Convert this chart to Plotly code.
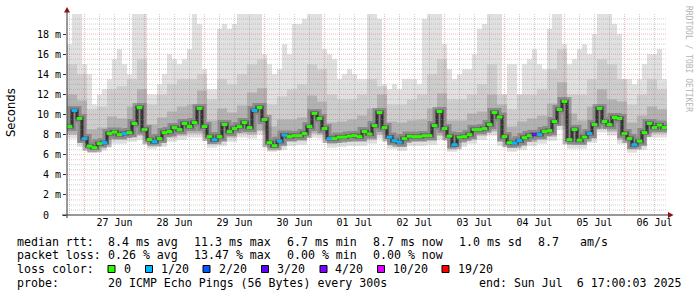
import numpy as np
import pandas as pd
import plotly.graph_objects as go

# ---------------- data ----------------
START = "2025-06-26 17:00"
END = "2025-07-06 17:00"

# median rtt (ms), one value per 2 hours
median_ms = [
    8.8, 10.4, 9.6, 7.6, 6.85, 6.7, 7.1, 7.2, 8.1, 8.25,
    8.0, 8.1, 8.2, 9.1, 10.7, 8.5, 7.5, 7.3, 7.6, 8.2,
    8.3, 8.7, 8.5, 9.1, 8.8, 9.2, 10.6, 8.8, 7.8, 7.5,
    7.8, 9.0, 8.3, 8.6, 8.8, 9.2, 8.7, 10.4, 10.7, 9.5,
    7.2, 6.9, 7.35, 7.95, 7.8, 7.9, 7.9, 8.1, 8.8, 10.1,
    9.6, 8.6, 7.6, 7.6, 7.75, 7.75, 7.85, 7.9, 7.8, 8.3,
    8.05, 8.9, 10.2, 8.7, 7.75, 7.4, 7.25, 7.6, 7.85, 7.8,
    7.8, 7.9, 7.9, 8.9, 10.3, 8.6, 7.85, 7.0, 7.75, 7.8,
    8.0, 8.5, 8.5, 8.6, 9.0, 10.2, 9.75, 7.8, 7.2, 7.15,
    7.4, 7.7, 7.9, 8.0, 8.0, 8.3, 8.4, 9.3, 10.5, 11.3,
    7.5, 8.5, 7.45, 7.75, 8.1, 9.0, 10.6, 9.3, 9.0, 9.7,
    9.6, 8.1, 7.6, 7.0, 7.35, 8.2, 9.1, 8.7, 8.95, 8.7,
]

# lost pings (out of 20), per 2 hours
loss_pings = [
    0, 1, 0, 1, 0, 0, 0, 1, 0, 0,
    0, 1, 0, 0, 0, 0, 0, 1, 0, 0,
    0, 0, 0, 0, 0, 0, 0, 0, 0, 1,
    0, 0, 0, 0, 0, 0, 0, 1, 0, 0,
    0, 0, 1, 1, 0, 0, 0, 0, 0, 0,
    0, 0, 1, 0, 0, 0, 0, 0, 0, 0,
    0, 0, 0, 0, 1, 1, 1, 0, 0, 0,
    0, 0, 0, 0, 0, 0, 0, 1, 0, 0,
    0, 0, 0, 0, 0, 0, 0, 0, 0, 1,
    1, 0, 0, 3, 1, 0, 0, 0, 0, 0,
    0, 0, 0, 0, 1, 0, 0, 0, 0, 0,
    0, 0, 0, 1, 0, 0, 0, 0, 0, 0,
]

# slowest ping (top of smoke), per 2 hours
smoke_max = [
    17, 20, 20, 15, 14, 11, 12, 12.5, 13.5, 15.5,
    16.5, 15, 14, 20, 20, 20, 12, 12, 13, 14,
    16, 15.5, 15, 15.5, 16.5, 20, 19, 14.5, 12.5, 12.5,
    18.5, 19, 18.5, 19, 20, 20, 20, 20, 20, 16,
    15, 14, 14.5, 17, 16, 19, 19, 19.5, 20, 20,
    20, 16.5, 16, 15.5, 13.5, 14, 14.5, 14, 13.5, 13.5,
    20, 20, 19.5, 13, 12.5, 13, 12.5, 13.5, 13.5, 13.5,
    13, 19.5, 20, 20, 20, 17, 14.5, 13.5, 14, 14.5,
    14.5, 16, 18.5, 19, 20, 20, 20, 12, 15, 15,
    12, 15, 15.5, 16.5, 15, 14.5, 18.5, 20, 20, 17,
    15, 15.5, 16.5, 17, 16, 18, 20, 20, 20, 19,
    18, 13.5, 13.5, 13, 13.5, 15, 16, 16, 16.5, 13.5,
]

# per 4 hours: fastest ping, lower quartile, upper quartile, 90th percentile
smoke_min = [
    7.6, 6.8, 6.2, 6.4, 7.1, 7.1, 7.3, 7.5, 6.6, 6.8,
    7.3, 7.5, 7.7, 7.7, 6.7, 6.9, 7.3, 7.7, 7.6, 8.0,
    6.3, 6.5, 6.9, 7.0, 7.7, 7.6, 6.7, 6.8, 6.9, 6.9,
    7.1, 7.6, 6.6, 6.4, 6.9, 6.9, 7.0, 7.5, 6.3, 6.8,
    7.1, 7.5, 7.9, 6.9, 6.3, 6.5, 6.9, 7.1, 7.4, 8.5,
    6.6, 6.6, 7.2, 8.2, 7.9, 7.1, 6.2, 6.5, 7.7, 7.7,
]
smoke_q25 = [
    8.0, 7.2, 6.6, 6.8, 7.5, 7.5, 7.7, 7.9, 7.0, 7.2,
    7.7, 7.9, 8.1, 8.1, 7.1, 7.3, 7.7, 8.1, 8.0, 8.4,
    6.7, 6.9, 7.3, 7.4, 8.1, 8.0, 7.1, 7.2, 7.3, 7.3,
    7.5, 8.0, 7.0, 6.8, 7.3, 7.3, 7.4, 7.9, 6.7, 7.2,
    7.5, 7.9, 8.3, 7.3, 6.7, 6.9, 7.3, 7.5, 7.8, 8.9,
    7.0, 7.0, 7.6, 8.6, 8.3, 7.5, 6.6, 6.9, 8.1, 8.1,
]
smoke_p75 = [
    12.0, 11.4, 8.5, 8.7, 9.8, 9.6, 10.8, 12.5, 9.0, 9.7,
    10.3, 10.8, 11.0, 12.4, 9.4, 10.6, 10.2, 10.9, 12.2, 12.6,
    8.8, 9.5, 9.5, 9.7, 11.9, 11.3, 9.2, 9.3, 9.5, 9.9,
    10.6, 12.0, 9.3, 9.2, 9.4, 9.5, 10.6, 12.1, 9.4, 9.4,
    10.1, 10.3, 12.0, 11.0, 8.8, 9.3, 9.6, 9.9, 11.1, 13.2,
    10.1, 9.4, 10.8, 12.5, 11.5, 11.3, 9.2, 9.9, 10.8, 10.5,
]
smoke_p90 = [
    15.0, 14.0, 10.5, 10.8, 12.5, 12.8, 13.5, 15.5, 11.0, 12.0,
    13.0, 13.5, 13.5, 14.0, 11.5, 13.5, 13.0, 14.0, 15.0, 15.5,
    11.0, 11.8, 12.5, 13.0, 15.0, 14.5, 12.0, 11.5, 11.5, 12.0,
    13.5, 12.8, 11.0, 11.0, 11.5, 12.0, 14.0, 15.5, 11.5, 11.5,
    12.0, 13.0, 15.0, 12.0, 10.5, 12.0, 12.0, 12.5, 14.5, 16.5,
    12.0, 12.0, 13.5, 15.5, 15.0, 13.5, 11.0, 12.0, 13.5, 12.5,
]

y_ticks = [0, 2, 4, 6, 8, 10, 12, 14, 16, 18]
y_tick_labels = ["0\u00a0\u00a0", "2 m", "4 m", "6 m", "8 m", "10 m",
                 "12 m", "14 m", "16 m", "18 m"]
day_labels = ["27 Jun", "28 Jun", "29 Jun", "30 Jun", "01 Jul",
              "02 Jul", "03 Jul", "04 Jul", "05 Jul", "06 Jul"]

loss_colors = {0: "#26ff00", 1: "#00b8ff", 2: "#0059ff", 3: "#5e00ff",
               4: "#7e00ff", 10: "#dd00ff", 19: "#ff0000"}
loss_legend = [(0, "0"), (1, "1/20"), (2, "2/20"), (3, "3/20"),
               (4, "4/20"), (10, "10/20"), (19, "19/20")]

legend_rows = [
    [("median rtt:", 16), ("8.4 ms avg", 107), ("11.3 ms max", 193),
     ("6.7 ms min", 286), ("8.7 ms now", 372), ("1.0 ms sd", 458),
     ("8.7", 536.5), ("am/s", 579)],
    [("packet loss:", 16), ("0.26 % avg", 107), ("13.47 % max", 193),
     ("0.00 % min", 286), ("0.00 % now", 372)],
    [("loss color:", 16)],
    [("probe:", 16), ("20 ICMP Echo Pings (56 Bytes) every 300s", 107),
     ("end: Sun Jul  6 17:00:03 2025", 478)],
]
legend_row_y = [241.7, 255.2, 269, 282.8]
box_x = [108, 145.5, 203, 261.5, 320, 377.5, 442]
box_text_x = [123, 160, 218, 276, 334, 391.5, 456.5]

# ---------------- geometry helpers ----------------
W, H = 697, 297
ML, MR, MT, MB = 67, 30, 14, 82
PW, PH = W - ML - MR, H - MT - MB


def px(xp):
    return (xp - ML) / PW


def py(yp):
    return (MT + PH - yp) / PH


def nb(s):
    return s.replace(" ", "\u00a0")


t2 = pd.date_range(START, periods=len(median_ms) + 1, freq="2h")
t4 = pd.date_range(START, periods=len(smoke_min) + 1, freq="4h")
t2c = t2[:-1] + pd.Timedelta(hours=1)


def closed(v):
    return list(v) + [v[-1]]


fig = go.Figure()


def band(xlo, lo, xhi, hi, color):
    fig.add_trace(go.Scatter(x=xlo, y=closed(lo), mode="lines",
                             line=dict(width=0, shape="hv"),
                             hoverinfo="skip", showlegend=False))
    fig.add_trace(go.Scatter(x=xhi, y=closed(hi), mode="lines",
                             line=dict(width=0, shape="hv"),
                             fill="tonexty", fillcolor=color,
                             hoverinfo="skip", showlegend=False))


band(t4, smoke_min, t2, smoke_max, "#e0e0e0")
band(t4, smoke_q25, t4, smoke_p90, "#cdcdcd")
band(t4, smoke_q25, t4, smoke_p75, "#b2b2b2")

# dark smoke right around the median
fig.add_trace(go.Scatter(x=t2, y=closed(median_ms), mode="lines",
                         line=dict(width=9, shape="hv", color="rgba(90,90,90,0.45)"),
                         hoverinfo="skip", showlegend=False))
fig.add_trace(go.Scatter(x=t2, y=closed(median_ms), mode="lines",
                         line=dict(width=4, shape="hv", color="rgba(50,50,50,0.55)"),
                         hoverinfo="skip", showlegend=False))
fig.add_trace(go.Scatter(x=t2, y=closed(median_ms), mode="lines",
                         line=dict(width=1, shape="hv", color="#111111"),
                         hoverinfo="skip", showlegend=False))
fig.add_trace(go.Scatter(x=t2c, y=median_ms, mode="markers",
                         marker=dict(symbol="line-ew", size=4,
                                     line=dict(width=3,
                                               color=[loss_colors[l] for l in loss_pings])),
                         hoverinfo="skip", showlegend=False))

shapes = []
major_col = "rgba(225,70,70,0.38)"
minor_col = "rgba(140,140,140,0.42)"
# grid (drawn above the smoke, like rrdtool)
for t in pd.date_range("2025-06-26 18:00", END, freq="6h"):
    major = t.hour == 0
    ts = t.strftime("%Y-%m-%d %H:%M")
    shapes.append(dict(type="line", xref="x", yref="paper", x0=ts, x1=ts,
                       y0=0, y1=1, layer="above",
                       line=dict(width=1, dash="1px,1px",
                                 color=major_col if major else minor_col)))
for v in np.arange(0.5, 20.0, 0.5):
    major = abs(v % 2) < 1e-9
    shapes.append(dict(type="line", xref="paper", yref="y", x0=0, x1=1,
                       y0=v, y1=v, layer="above",
                       line=dict(width=1, dash="1px,1px",
                                 color=major_col if major else minor_col)))

# axes lines and arrows
axis_col = "#333333"
arrow_col = "#8b1010"
shapes.append(dict(type="line", xref="paper", yref="paper",
                   x0=px(62), x1=px(669), y0=py(215), y1=py(215),
                   line=dict(width=1, color=axis_col), layer="above"))
shapes.append(dict(type="line", xref="paper", yref="paper",
                   x0=px(67), x1=px(67), y0=py(218), y1=py(10),
                   line=dict(width=1, color=axis_col), layer="above"))
shapes.append(dict(type="path", xref="paper", yref="paper",
                   path=f"M {px(64)} {py(12.5)} L {px(67)} {py(7)} L {px(70)} {py(12.5)} Z",
                   fillcolor=arrow_col, line=dict(width=0), layer="above"))
shapes.append(dict(type="path", xref="paper", yref="paper",
                   path=f"M {px(668)} {py(212)} L {px(673.5)} {py(215)} L {px(668)} {py(218)} Z",
                   fillcolor=arrow_col, line=dict(width=0), layer="above"))

# legend colour boxes
for (lv, lab), bx in zip(loss_legend, box_x):
    shapes.append(dict(type="rect", xref="paper", yref="paper",
                       x0=px(bx), x1=px(bx + 7), y0=py(265.5), y1=py(272.5),
                       fillcolor=loss_colors[lv], line=dict(width=1, color="black")))

annotations = []
mono = "DejaVu Sans Mono"
for row, yy in zip(legend_rows, legend_row_y):
    for text, xx in row:
        annotations.append(dict(text=nb(text), x=px(xx), y=py(yy), xref="paper", yref="paper",
                                xanchor="left", yanchor="middle", showarrow=False,
                                borderpad=0, font=dict(family=mono, size=11.6, color="black")))
for (lv, lab), tx in zip(loss_legend, box_text_x):
    annotations.append(dict(text=lab, x=px(tx), y=py(legend_row_y[2]), xref="paper", yref="paper",
                            xanchor="left", yanchor="middle", showarrow=False, borderpad=0,
                            font=dict(family=mono, size=11.6, color="black")))

annotations.append(dict(text="Seconds", x=px(11), y=py(113), xref="paper", yref="paper",
                        xanchor="center", yanchor="middle", textangle=-90, showarrow=False,
                        font=dict(family="DejaVu Sans", size=11.6, color="black")))
annotations.append(dict(text=nb("RRDTOOL / TOBI OETIKER"), x=px(688), y=py(59),
                        xref="paper", yref="paper", xanchor="center", yanchor="middle",
                        textangle=90, showarrow=False,
                        font=dict(family=mono, size=8, color="#b4b4b4")))

noon = pd.date_range("2025-06-27 12:00", periods=len(day_labels), freq="D")

fig.update_layout(
    width=W, height=H,
    margin=dict(l=ML, r=MR, t=MT, b=MB),
    paper_bgcolor="white", plot_bgcolor="white",
    showlegend=False,
    font=dict(family=mono, size=10, color="black"),
    xaxis=dict(type="date", range=[START, END], showgrid=False, zeroline=False,
               showline=False, tickmode="array", tickvals=list(noon),
               ticktext=day_labels, ticks="", tickfont=dict(family=mono, size=10)),
    yaxis=dict(range=[0, 20], showgrid=False, zeroline=False, showline=False,
               tickmode="array", tickvals=y_ticks, ticktext=y_tick_labels,
               ticks="outside", ticklen=3, tickcolor=axis_col,
               tickfont=dict(family=mono, size=10)),
    shapes=shapes,
    annotations=annotations,
)

fig.write_html("out.html")
